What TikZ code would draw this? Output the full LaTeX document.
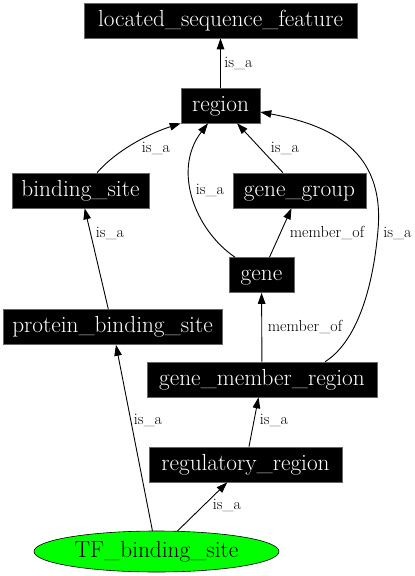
\documentclass[tikz,border=0pt]{standalone}
\usetikzlibrary{arrows.meta,shapes.geometric}
\definecolor{tfgreen}{HTML}{00FF00}
\begin{document}
\begin{tikzpicture}[x=1pt,y=-1pt,
 box/.style={fill=black, draw=black!60, line width=0.6pt, text=white, minimum height=35pt, inner xsep=0pt, font=\fontsize{23.3}{25}\selectfont, text height=16pt, text depth=5pt},
 edge/.style={draw=black, line width=0.9pt, -{Triangle[length=11pt,width=7.5pt]}},
 lbl/.style={font=\fontsize{16}{18}\selectfont, anchor=base, inner sep=0pt},
]
\useasboundingbox (0,0) rectangle (415,576);
\node[box, minimum width=273pt] (lsf) at (220.5,20.5) {located\_sequence\_feature};
\node[box, minimum width=79pt] (region) at (220.5,105.5) {region};
\node[box, minimum width=137pt] (bs) at (80.5,190.5) {binding\_site};
\node[box, minimum width=133pt] (gg) at (299.5,190.5) {gene\_group};
\node[box, minimum width=65pt] (gene) at (261.5,275) {gene};
\node[box, minimum width=219pt] (pbs) at (112.5,327) {protein\_binding\_site};
\node[box, minimum width=230pt] (gmr) at (262,379.5) {gene\_member\_region};
\node[box, minimum width=193pt] (reg) at (245.5,464.5) {regulatory\_region};
\node[ellipse, draw=black, line width=0.6pt, fill=tfgreen, minimum width=245pt, minimum height=41pt, inner sep=0pt, font=\fontsize{23.3}{25}\selectfont] (tf) at (156.5,551.5) {TF\_binding\_site};

\draw[edge] (region) -- (lsf);
\draw[edge] ([xshift=16.5pt]bs.north) .. controls (115,152) and (145,135) .. (region.south west);
\draw[edge] ([xshift=-26.5pt]gene.north) .. controls (195,230) and (172,170) .. ([xshift=-12.5pt]region.south);
\draw[edge] (gg) -- (region);
\draw[edge] (gene) -- (gg);
\draw[edge] (gmr) -- (gene);
\draw[edge] ([xshift=63pt]gmr.north) .. controls (352,345) and (372,300) .. (378,230) .. controls (385,150) and (330,125) .. ([yshift=-6.5pt]region.east);
\draw[edge] (pbs) -- (bs);
\draw[edge] (reg) -- (gmr);
\draw[edge] (tf) -- (pbs);
\draw[edge] (tf) -- (reg);

\node[lbl] (l1) at (238.5,67) {is\_a};
\node[lbl] (l2) at (156,152) {is\_a};
\node[lbl] (l3) at (285,152) {is\_a};
\node[lbl] (l4) at (210,194) {is\_a};
\node[lbl] (l5) at (110,237) {is\_a};
\node[lbl] (l6) at (327,237) {member\_of};
\node[lbl] (l7) at (397.5,237) {is\_a};
\node[lbl] (l8) at (305,331) {member\_of};
\node[lbl] (l9) at (148,424) {is\_a};
\node[lbl] (l10) at (274,424) {is\_a};
\node[lbl] (l11) at (227,509) {is\_a};
\end{tikzpicture}
\end{document}
